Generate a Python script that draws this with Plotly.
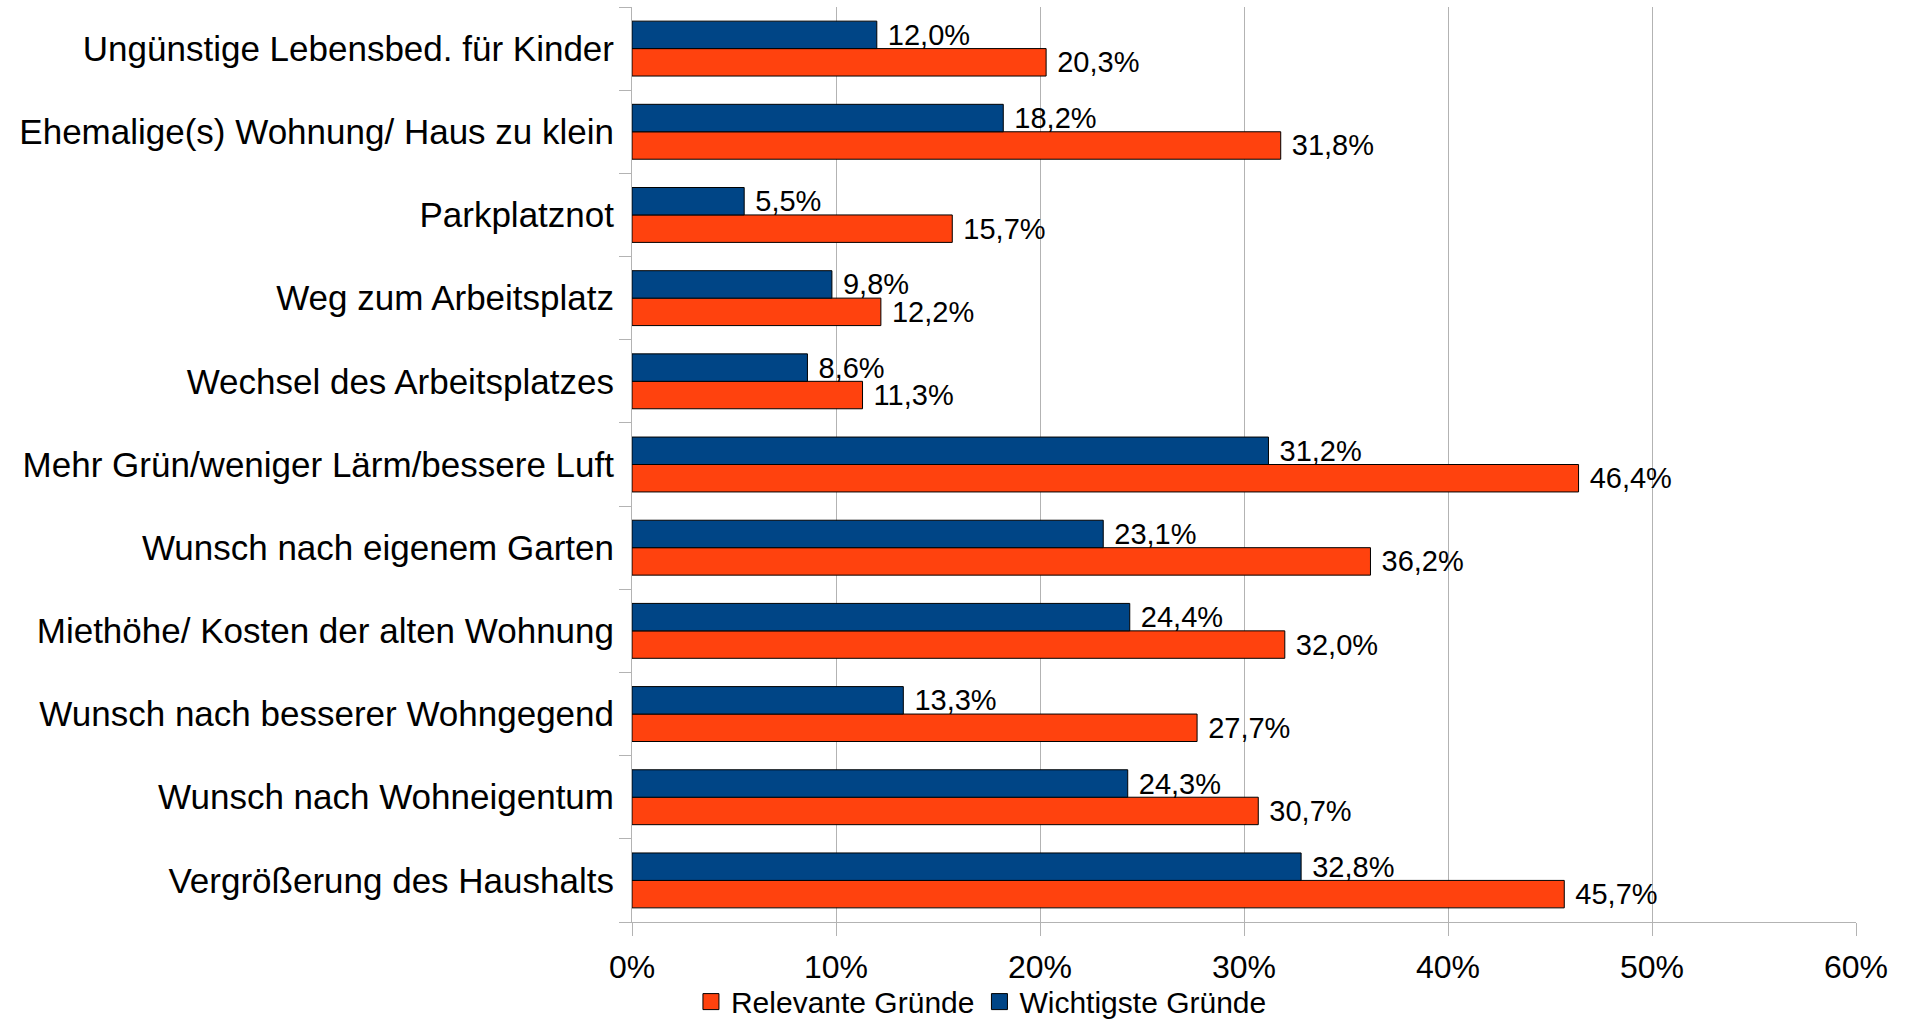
import plotly.graph_objects as go

# categories bottom-to-top
categories = [
    "Vergrößerung des Haushalts",
    "Wunsch nach Wohneigentum",
    "Wunsch nach besserer Wohngegend",
    "Miethöhe/ Kosten der alten Wohnung",
    "Wunsch nach eigenem Garten",
    "Mehr Grün/weniger Lärm/bessere Luft",
    "Wechsel des Arbeitsplatzes",
    "Weg zum Arbeitsplatz",
    "Parkplatznot",
    "Ehemalige(s) Wohnung/ Haus zu klein",
    "Ungünstige Lebensbed. für Kinder",
]
relevante = [45.7, 30.7, 27.7, 32.0, 36.2, 46.4, 11.3, 12.2, 15.7, 31.8, 20.3]
wichtigste = [32.8, 24.3, 13.3, 24.4, 23.1, 31.2, 8.6, 9.8, 5.5, 18.2, 12.0]
x_ticks = [0, 10, 20, 30, 40, 50, 60]
x_tick_labels = ["0%", "10%", "20%", "30%", "40%", "50%", "60%"]

FONT = "Liberation Sans, Arial, sans-serif"
GRID = "#b3b3b3"
C_REL = "#ff420e"
C_WICH = "#004586"

fig = go.Figure()
fig.add_trace(go.Bar(
    name="Relevante Gründe", y=categories, x=relevante, orientation="h",
    marker=dict(color=C_REL, line=dict(color="#000000", width=1)),
    texttemplate=" %{x:.1f}%", textposition="outside", constraintext="none",
    textfont=dict(family=FONT, size=29, color="#000000"), cliponaxis=False,
    showlegend=False,
))
fig.add_trace(go.Bar(
    name="Wichtigste Gründe", y=categories, x=wichtigste, orientation="h",
    marker=dict(color=C_WICH, line=dict(color="#000000", width=1)),
    texttemplate=" %{x:.1f}%", textposition="outside", constraintext="none",
    textfont=dict(family=FONT, size=29, color="#000000"), cliponaxis=False,
    showlegend=False,
))
# legend entries with larger square symbols
for nm, col in [("Relevante Gründe", C_REL), ("Wichtigste Gründe", C_WICH)]:
    fig.add_trace(go.Scatter(
        name=nm, x=[None], y=[None], mode="markers",
        marker=dict(symbol="square", size=16, color=col, line=dict(color="#000000", width=1)),
        showlegend=True, hoverinfo="skip",
    ))

fig.update_layout(
    width=1909, height=1021,
    barmode="group", bargap=0.34, bargroupgap=0,
    separators=",.",
    plot_bgcolor="white", paper_bgcolor="white",
    font=dict(family=FONT, size=30, color="#000000"),
    margin=dict(l=632, r=53, t=7, b=99, autoexpand=False),
    showlegend=True,
    legend=dict(orientation="h", x=0.2855, xanchor="center", y=-0.087, yanchor="middle",
                font=dict(family=FONT, size=30), traceorder="normal", itemwidth=30,
                bgcolor="rgba(0,0,0,0)"),
)
fig.update_xaxes(
    range=[0, 60], tickmode="array", tickvals=x_ticks, ticktext=x_tick_labels,
    showgrid=True, gridcolor=GRID, gridwidth=1,
    showline=True, linecolor=GRID, linewidth=1,
    ticks="outside", ticklen=13, tickcolor=GRID,
    ticklabelstandoff=4, zeroline=False,
    tickfont=dict(family=FONT, size=32),
)
fig.update_yaxes(
    showgrid=False, showline=True, linecolor=GRID, linewidth=1,
    ticks="outside", ticklen=12, tickcolor=GRID, tickson="boundaries",
    ticklabelstandoff=10,
    tickfont=dict(family=FONT, size=35),
)

fig.write_html("out.html", config={"displayModeBar": False},
               post_script="document.body.style.margin='0';")
